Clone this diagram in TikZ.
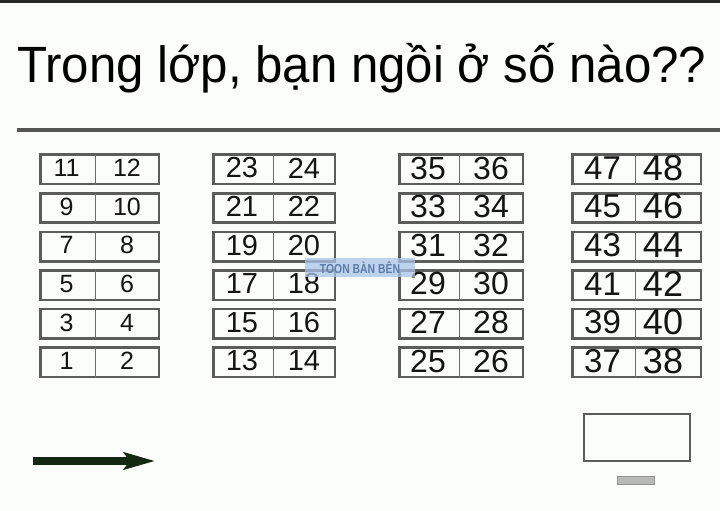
\documentclass[tikz,border=0pt]{standalone}
\usepackage{fontspec}
\setmainfont{Liberation Sans}
\usetikzlibrary{arrows.meta}
\definecolor{bgc}{HTML}{FBFDFB}
\definecolor{deskline}{HTML}{5C5C5C}
\definecolor{divline}{HTML}{6A6A6A}
\definecolor{arrowc}{HTML}{142814}
\definecolor{rulec}{HTML}{555555}
\definecolor{digitc}{HTML}{141414}
\definecolor{wmfill}{HTML}{A9C4E8}
\definecolor{wmtext}{HTML}{5D7DA8}
\tikzset{
  deskbox/.style={draw=deskline, line width=2.6pt, inner sep=0pt, minimum height=29.4pt, anchor=north west},
  divider/.style={draw=divline, line width=1pt},
  digit/.style={text=digitc, inner sep=0pt},
  rulestyle/.style={draw=rulec, line width=4pt},
  screenbox/.style={draw=deskline, line width=2.4pt, minimum width=106pt, minimum height=47pt, inner sep=0pt},
  standbox/.style={draw=gray!85, fill=gray!55, line width=1pt, minimum width=37pt, minimum height=8pt, inner sep=0pt},
  watermark/.style={fill=wmfill, fill opacity=0.75, text opacity=1, text=wmtext, inner sep=0pt, minimum width=110pt, minimum height=19pt, font=\bfseries\fontsize{13}{13}\selectfont},
  arrowstyle/.style={draw=arrowc, line width=8pt, -{Stealth[length=31pt,width=17pt,inset=6pt,fill=arrowc]}}
}
\begin{document}
\begin{tikzpicture}[x=1pt,y=-1pt]
\useasboundingbox (0,0) rectangle (720,511);
\fill[bgc] (0,0) rectangle (720,511);
\fill[black!85] (0,0) rectangle (720,3);
\node[anchor=base west, inner sep=0pt, text=black, font=\fontsize{51}{51}\selectfont] (title) at (17,82) {\scalebox{0.965}[1]{Trong lớp, bạn ngồi ở số nào??}};
\coordinate (ruleL) at (17,129.5);
\coordinate (ruleR) at (720,129.5);
\draw[rulestyle] (ruleL) -- (ruleR);
\foreach \c/\L/\D/\R/\fl/\fr/\off in {0/38/95/159/25/25/0, 1/211/273/335/29/29/0, 2/397/459/523/32/32/0, 3/570/635/701/33/36/-5} {
  \foreach \r in {1,...,6} {
    \pgfmathtruncatemacro\nl{12*\c+2*(6-\r)+1}
    \pgfmathtruncatemacro\nr{\nl+1}
    \pgfmathsetmacro\yt{152+38.6*(\r-1)}
    \pgfmathsetmacro\yc{\yt+16}
    \pgfmathsetmacro\w{\R-\L-2.6}
    \pgfmathsetmacro\xa{\L+1.3}
    \pgfmathsetmacro\ya{\yt+1.3}
    \pgfmathsetmacro\xl{(\L+\D)/2}
    \pgfmathsetmacro\xr{(\D+\R)/2+\off}
    \node[deskbox, minimum width=\w pt] (desk-\nl) at (\xa,\ya) {};
    \coordinate (div-\nl) at (\D,\yc);
    \draw[divider] (desk-\nl.north -| div-\nl) -- (desk-\nl.south -| div-\nl);
    \node[digit, font=\fontsize{\fl}{\fl}\selectfont] (n-\nl) at (\xl,\yc) {\nl};
    \node[digit, font=\fontsize{\fr}{\fr}\selectfont] (n-\nr) at (\xr,\yc) {\nr};
  }
}
\node[watermark] (wm) at (360,267.5) {\scalebox{0.8}[1]{TOON BÀN BÊN}};
\node[screenbox] (screen) at (637,437.5) {};
\node[standbox] (stand) at (636,480.5) {};
\coordinate (arrowS) at (33,461);
\coordinate (arrowE) at (155,461);
\draw[arrowstyle] (arrowS) -- (arrowE);
\end{tikzpicture}
\end{document}
